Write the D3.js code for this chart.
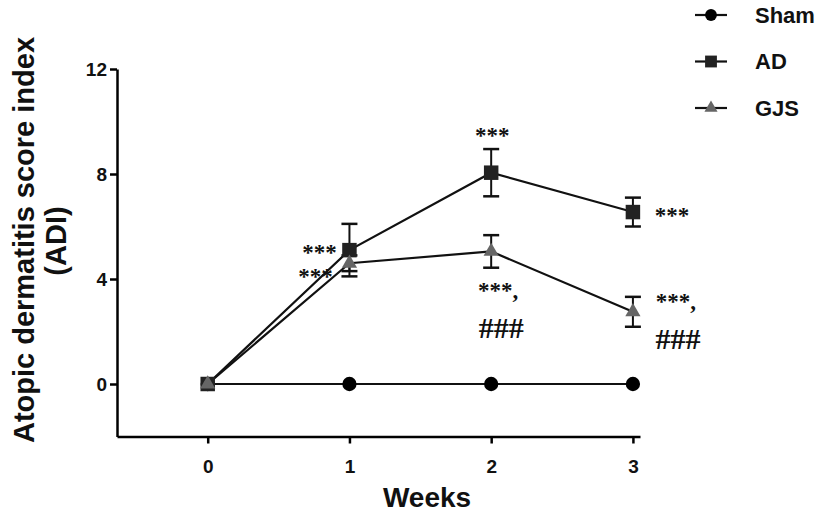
<!DOCTYPE html>
<html>
<head>
    <style>
        body { margin: 0; background: #fff; }
        text { font-family: "Liberation Sans", Arial, sans-serif; font-weight: bold; }
        .axis path, .axis line { stroke: #000; stroke-width: 2.5px; }
        .axis text { font-size: 19px; fill: #111; }
        .sig { font-family: "Liberation Serif", "Times New Roman", serif; fill: #111; }
    </style>
    <script src="https://d3js.org/d3.v7.min.js"></script>
</head>
<body>
    <svg width="827" height="513"></svg>
    <script>
        var weeks = [0, 1, 2, 3];
        var series = ["Sham", "AD", "GJS"];
        var shamMean = [0, 0, 0, 0];
        var shamErr = [0, 0, 0, 0];
        var adMean = [0, 5.1, 8.05, 6.55];
        var adErr = [0, 1.0, 0.9, 0.55];
        var gjsMean = [0, 4.6, 5.05, 2.75];
        var gjsErr = [0, 0.3, 0.62, 0.57];
        var yTicks = [0, 4, 8, 12];
        // significance marks: [week, value, text]
        var marks = [
            [1, 5.1, "***"], [1, 4.6, "***"],
            [2, 8.05, "***"], [2, 5.05, "***,"], [2, 5.05, "###"],
            [3, 6.55, "***"], [3, 2.75, "***,"], [3, 2.75, "###"]
        ];

        var svg = d3.select("svg");

        var x = d3.scaleLinear().domain([-0.64, 3.05]).range([117, 640]);
        var y = d3.scaleLinear().domain([-2, 12]).range([436.5, 69]);

        svg.append("g")
           .attr("class", "axis")
           .attr("transform", "translate(0,436.5)")
           .call(d3.axisBottom(x).tickValues(weeks).tickFormat(d3.format("d"))
                 .tickSize(7).tickSizeOuter(0).tickPadding(16));

        svg.append("g")
           .attr("class", "axis")
           .attr("transform", "translate(117,0)")
           .call(d3.axisLeft(y).tickValues(yTicks).tickSize(7).tickSizeOuter(0).tickPadding(3));

        var data = [
            { name: "Sham", mean: shamMean, err: shamErr, color: "#000", shape: d3.symbolCircle, size: 160 },
            { name: "AD", mean: adMean, err: adErr, color: "#222", shape: d3.symbolSquare, size: 210 },
            { name: "GJS", mean: gjsMean, err: gjsErr, color: "#666", shape: d3.symbolTriangle, size: 100 }
        ];

        var line = d3.line()
                     .x(function(d, i) { return x(weeks[i]); })
                     .y(function(d) { return y(d); });

        data.forEach(function(s) {
            svg.append("path")
               .attr("d", line(s.mean))
               .attr("fill", "none")
               .attr("stroke", "#111")
               .attr("stroke-width", 2.2);

            s.mean.forEach(function(m, i) {
                if (s.err[i] > 0) {
                    var cx = x(weeks[i]);
                    svg.append("line").attr("x1", cx).attr("x2", cx)
                       .attr("y1", y(m - s.err[i])).attr("y2", y(m + s.err[i]))
                       .attr("stroke", "#111").attr("stroke-width", 2);
                    [m - s.err[i], m + s.err[i]].forEach(function(v) {
                        svg.append("line").attr("x1", cx - 8).attr("x2", cx + 8)
                           .attr("y1", y(v)).attr("y2", y(v))
                           .attr("stroke", "#111").attr("stroke-width", 2.5);
                    });
                }
            });
        });

        // markers drawn after lines (GJS on top at week 0)
        data.forEach(function(s) {
            svg.selectAll(null)
               .data(s.mean)
               .enter().append("path")
               .attr("transform", function(d, i) { return "translate(" + x(weeks[i]) + "," + y(d) + ")"; })
               .attr("d", d3.symbol().type(s.shape).size(s.size))
               .attr("fill", s.color);
        });

        // significance labels
        var offsets = [[-30, 10], [-34, 21], [1, -30], [7, 47], [10, 87], [39, 11], [43, -3], [45, 37]];
        marks.forEach(function(mk, i) {
            var isHash = mk[2] === "###";
            svg.append("text")
               .attr("class", "sig")
               .attr("x", x(mk[0]) + offsets[i][0])
               .attr("y", y(mk[1]) + offsets[i][1])
               .attr("text-anchor", "middle")
               .style("font-size", isHash ? "30px" : "23px")
               .text(mk[2]);
        });

        // legend
        var legSizes = [110, 140, 75];
        var leg = svg.append("g");
        data.forEach(function(s, i) {
            var ly = 15 + i * 46.5;
            leg.append("line").attr("x1", 695).attr("x2", 727).attr("y1", ly).attr("y2", ly)
               .attr("stroke", "#111").attr("stroke-width", 2.2);
            leg.append("path").attr("transform", "translate(711," + ly + ")")
               .attr("d", d3.symbol().type(s.shape).size(legSizes[i])).attr("fill", s.color);
            leg.append("text").attr("x", 755).attr("y", ly).attr("dy", "0.36em")
               .style("font-size", "22px").attr("fill", "#111").text(series[i]);
        });

        // axis titles
        svg.append("text")
           .attr("transform", "translate(34,240) rotate(-90)")
           .attr("text-anchor", "middle")
           .style("font-size", "29px").attr("fill", "#111")
           .text("Atopic dermatitis score index");
        svg.append("text")
           .attr("transform", "translate(66,241) rotate(-90)")
           .attr("text-anchor", "middle")
           .style("font-size", "29px").attr("fill", "#111")
           .text("(ADI)");
        svg.append("text")
           .attr("x", 427).attr("y", 507)
           .attr("text-anchor", "middle")
           .style("font-size", "28px").attr("fill", "#111")
           .text("Weeks");
    </script>
</body>
</html>
